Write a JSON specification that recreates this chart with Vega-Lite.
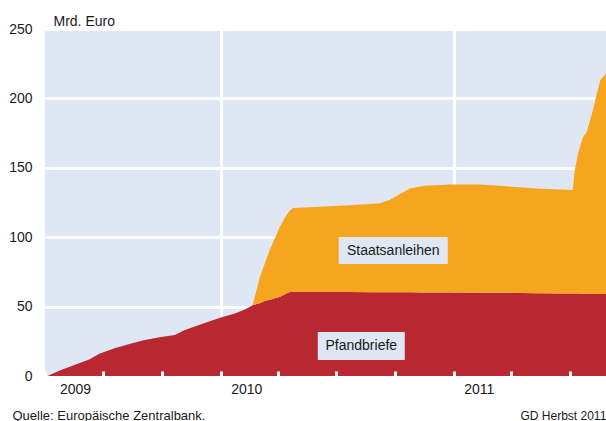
{
  "$schema": "https://vega.github.io/schema/vega-lite/v6.json",
  "autosize": "none",
  "width": 561,
  "height": 347,
  "padding": {"left": 45, "top": 29, "right": 0, "bottom": 45},
  "background": "white",
  "config": {
    "view": {"fill": "#DFE7F4", "stroke": null},
    "font": "Liberation Sans",
    "axis": {"labelFont": "Liberation Sans", "titleFont": "Liberation Sans", "labelColor": "#1a1a1a", "titleColor": "#1a1a1a"},
    "axisY": {
      "grid": true, "gridColor": "white", "gridWidth": 3, "gridOpacity": 1,
      "ticks": false, "domain": false,
      "labelFontSize": 14, "labelPadding": 13, "labelBaseline": "middle",
      "titleAngle": 0, "titleAlign": "left", "titleBaseline": "alphabetic",
      "titleX": 8, "titleY": -4, "titleFontSize": 14, "titleFontWeight": "normal"
    }
  },
  "datasets": {
    "series": [
      {"date": "2009-04-01", "Pfandbriefe": 0, "Staatsanleihen": 0},
      {"date": "2009-04-05", "Pfandbriefe": 0, "Staatsanleihen": 0},
      {"date": "2009-04-24", "Pfandbriefe": 4, "Staatsanleihen": 0},
      {"date": "2009-05-17", "Pfandbriefe": 8, "Staatsanleihen": 0},
      {"date": "2009-06-10", "Pfandbriefe": 12, "Staatsanleihen": 0},
      {"date": "2009-06-25", "Pfandbriefe": 16, "Staatsanleihen": 0},
      {"date": "2009-07-19", "Pfandbriefe": 20, "Staatsanleihen": 0},
      {"date": "2009-08-11", "Pfandbriefe": 23, "Staatsanleihen": 0},
      {"date": "2009-09-04", "Pfandbriefe": 26, "Staatsanleihen": 0},
      {"date": "2009-09-27", "Pfandbriefe": 28, "Staatsanleihen": 0},
      {"date": "2009-10-21", "Pfandbriefe": 29.5, "Staatsanleihen": 0},
      {"date": "2009-11-05", "Pfandbriefe": 33, "Staatsanleihen": 0},
      {"date": "2009-11-29", "Pfandbriefe": 37, "Staatsanleihen": 0},
      {"date": "2009-12-31", "Pfandbriefe": 42, "Staatsanleihen": 0},
      {"date": "2010-01-23", "Pfandbriefe": 45, "Staatsanleihen": 0},
      {"date": "2010-02-08", "Pfandbriefe": 48, "Staatsanleihen": 0},
      {"date": "2010-02-20", "Pfandbriefe": 51, "Staatsanleihen": 0},
      {"date": "2010-03-03", "Pfandbriefe": 52.5, "Staatsanleihen": 18.5},
      {"date": "2010-03-11", "Pfandbriefe": 54, "Staatsanleihen": 27},
      {"date": "2010-03-19", "Pfandbriefe": 55, "Staatsanleihen": 36},
      {"date": "2010-04-03", "Pfandbriefe": 57, "Staatsanleihen": 50},
      {"date": "2010-04-14", "Pfandbriefe": 59.5, "Staatsanleihen": 56.5},
      {"date": "2010-04-19", "Pfandbriefe": 60.5, "Staatsanleihen": 58.5},
      {"date": "2010-04-24", "Pfandbriefe": 60.5, "Staatsanleihen": 60.5},
      {"date": "2010-07-22", "Pfandbriefe": 60.5, "Staatsanleihen": 62.5},
      {"date": "2010-08-22", "Pfandbriefe": 60.4, "Staatsanleihen": 63.6},
      {"date": "2010-09-07", "Pfandbriefe": 60.4, "Staatsanleihen": 64.1},
      {"date": "2010-09-23", "Pfandbriefe": 60.3, "Staatsanleihen": 66.7},
      {"date": "2010-10-08", "Pfandbriefe": 60.3, "Staatsanleihen": 70.7},
      {"date": "2010-10-24", "Pfandbriefe": 60.3, "Staatsanleihen": 74.7},
      {"date": "2010-11-16", "Pfandbriefe": 60.2, "Staatsanleihen": 76.8},
      {"date": "2010-12-26", "Pfandbriefe": 60.2, "Staatsanleihen": 77.8},
      {"date": "2011-02-11", "Pfandbriefe": 60, "Staatsanleihen": 78},
      {"date": "2011-03-14", "Pfandbriefe": 60, "Staatsanleihen": 77},
      {"date": "2011-04-14", "Pfandbriefe": 59.8, "Staatsanleihen": 76.2},
      {"date": "2011-05-11", "Pfandbriefe": 59.7, "Staatsanleihen": 75.3},
      {"date": "2011-06-16", "Pfandbriefe": 59.5, "Staatsanleihen": 74.8},
      {"date": "2011-07-06", "Pfandbriefe": 59.4, "Staatsanleihen": 74.6},
      {"date": "2011-07-09", "Pfandbriefe": 59.4, "Staatsanleihen": 88.6},
      {"date": "2011-07-14", "Pfandbriefe": 59.4, "Staatsanleihen": 100.6},
      {"date": "2011-07-22", "Pfandbriefe": 59.3, "Staatsanleihen": 112.7},
      {"date": "2011-07-28", "Pfandbriefe": 59.3, "Staatsanleihen": 116.7},
      {"date": "2011-08-05", "Pfandbriefe": 59.2, "Staatsanleihen": 129.8},
      {"date": "2011-08-13", "Pfandbriefe": 59.1, "Staatsanleihen": 144.9},
      {"date": "2011-08-18", "Pfandbriefe": 59, "Staatsanleihen": 154},
      {"date": "2011-08-27", "Pfandbriefe": 59, "Staatsanleihen": 159}
    ],
    "labels": [
      {"date": "2010-09-28", "value": 90.4, "label": "Staatsanleihen"},
      {"date": "2010-08-09", "value": 21.6, "label": "Pfandbriefe"}
    ]
  },
  "resolve": {"axis": {"x": "independent"}},
  "layer": [
    {
      "data": {"name": "series"},
      "transform": [{"fold": ["Pfandbriefe", "Staatsanleihen"], "as": ["series", "value"]}],
      "mark": {"type": "area", "interpolate": "linear"},
      "encoding": {
        "x": {
          "field": "date", "type": "temporal",
          "scale": {"type": "utc", "domain": [{"year": 2009, "month": 4, "date": 1, "utc": true}, {"year": 2011, "month": 8, "date": 27, "utc": true}]},
          "axis": {
            "orient": "bottom", "title": null, "labels": false, "ticks": false, "domain": false,
            "grid": true, "gridColor": "white", "gridWidth": 3, "gridOpacity": 1,
            "values": [{"year": 2010, "month": 1, "date": 1, "utc": true}, {"year": 2011, "month": 1, "date": 1, "utc": true}]
          }
        },
        "y": {
          "field": "value", "type": "quantitative", "stack": "zero",
          "scale": {"domain": [0, 250], "nice": false},
          "axis": {"title": "Mrd. Euro", "values": [0, 50, 100, 150, 200, 250]}
        },
        "color": {
          "field": "series", "type": "nominal",
          "scale": {"domain": ["Pfandbriefe", "Staatsanleihen"], "range": ["#B82830", "#F6A61E"]},
          "legend": null
        },
        "order": {"field": "series", "sort": "ascending"}
      }
    },
    {
      "data": {"name": "labels"},
      "mark": {"type": "point", "filled": true, "opacity": 1, "color": "#DFE7F4", "strokeWidth": 0},
      "encoding": {
        "x": {
          "field": "date", "type": "temporal",
          "scale": {"type": "utc", "domain": [{"year": 2009, "month": 4, "date": 1, "utc": true}, {"year": 2011, "month": 8, "date": 27, "utc": true}]},
          "axis": {
            "orient": "bottom", "title": "Quelle: Europäische Zentralbank.", "labels": false, "domain": false, "grid": false,
            "ticks": true, "tickColor": "white", "tickWidth": 3, "tickSize": -5, "zindex": 1,
            "values": [
              {"year": 2009, "month": 4, "date": 1, "utc": true},
              {"year": 2009, "month": 7, "date": 1, "utc": true},
              {"year": 2009, "month": 10, "date": 1, "utc": true},
              {"year": 2010, "month": 1, "date": 1, "utc": true},
              {"year": 2010, "month": 4, "date": 1, "utc": true},
              {"year": 2010, "month": 7, "date": 1, "utc": true},
              {"year": 2010, "month": 10, "date": 1, "utc": true},
              {"year": 2011, "month": 1, "date": 1, "utc": true},
              {"year": 2011, "month": 4, "date": 1, "utc": true},
              {"year": 2011, "month": 7, "date": 1, "utc": true}
            ],
            "titleX": -33, "titleY": 43, "titleAlign": "left", "titleBaseline": "alphabetic",
            "titleFontSize": 13, "titleFontWeight": "normal"
          }
        },
        "y": {"field": "value", "type": "quantitative", "scale": {"domain": [0, 250], "nice": false}, "axis": {"title": "Mrd. Euro", "values": [0, 50, 100, 150, 200, 250]}},
        "shape": {
          "condition": {"test": "datum.label === 'Pfandbriefe'", "value": "M-1,-0.3218H1V0.3218H-1Z"},
          "value": "M-1,-0.2477H1V0.2477H-1Z"
        },
        "size": {
          "condition": {"test": "datum.label === 'Pfandbriefe'", "value": 7569},
          "value": 11881
        }
      }
    },
    {
      "data": {"name": "labels"},
      "mark": {"type": "text", "fontSize": 14, "color": "#1a1a1a", "align": "center", "baseline": "middle", "font": "Liberation Sans"},
      "encoding": {
        "x": {
          "field": "date", "type": "temporal",
          "scale": {"type": "utc", "domain": [{"year": 2009, "month": 4, "date": 1, "utc": true}, {"year": 2011, "month": 8, "date": 27, "utc": true}]},
          "axis": {
            "orient": "bottom", "title": "GD Herbst 2011", "domain": false, "grid": false, "ticks": false,
            "labelFontSize": 14, "labelPadding": 6,
            "labelExpr": "utcFormat(datum.value, '%Y')",
            "values": [
              {"year": 2009, "month": 5, "date": 18, "utc": true},
              {"year": 2010, "month": 2, "date": 10, "utc": true},
              {"year": 2011, "month": 2, "date": 9, "utc": true}
            ],
            "titleX": 475, "titleY": 43, "titleAlign": "left", "titleBaseline": "alphabetic",
            "titleFontSize": 12, "titleFontWeight": "normal"
          }
        },
        "y": {"field": "value", "type": "quantitative", "scale": {"domain": [0, 250], "nice": false}, "axis": {"title": "Mrd. Euro", "values": [0, 50, 100, 150, 200, 250]}},
        "text": {"field": "label"}
      }
    }
  ]
}
